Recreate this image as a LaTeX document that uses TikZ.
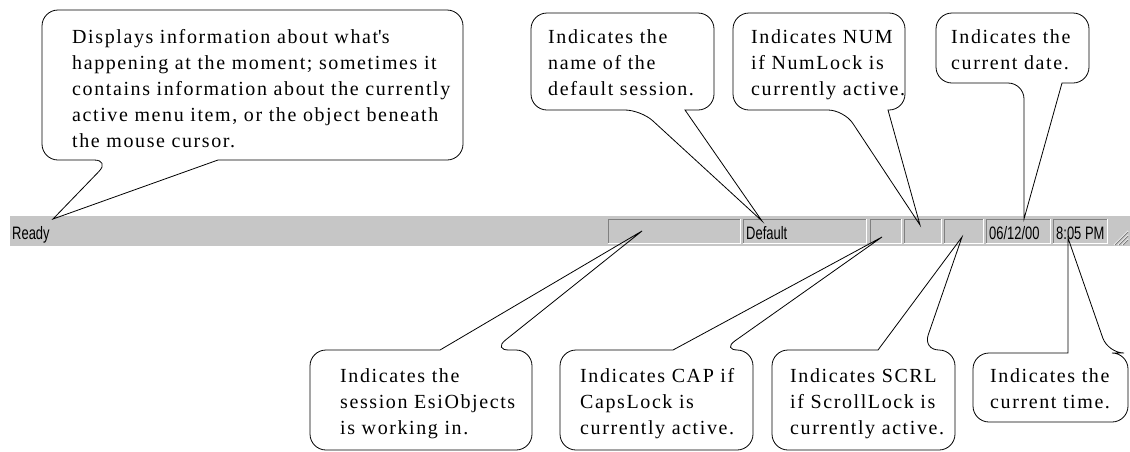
\documentclass[tikz,border=0pt]{standalone}
\usepackage{fontspec}
\usepackage{graphicx}
\setmainfont{Liberation Serif}
\newfontfamily\notefont[LetterSpace=8]{Liberation Serif}
\newfontfamily\barfont{Liberation Sans}
\definecolor{barfill}{RGB}{198,198,198}
\definecolor{panelshadow}{RGB}{128,128,128}

% callout outline with its pointer on the bottom edge:
% #1 left, #2 top, #3 right, #4 bottom, #5/#6 pointer base, #7 tip
\newcommand\bubbledown[7]{%
  \draw[bubbleline] (#6,#4) [rounded corners=16pt] -- (#3,#4) -- (#3,#2)
    -- (#1,#2) -- (#1,#4) -- (#5,#4) [sharp corners] -- (#7) -- cycle;}
% same, with the pointer on the top edge
\newcommand\bubbleup[7]{%
  \draw[bubbleline] (#5,#2) [rounded corners=16pt] -- (#1,#2) -- (#1,#4)
    -- (#3,#4) -- (#3,#2) -- (#6,#2) [sharp corners] -- (#7) -- cycle;}
% condensed status bar lettering
\newcommand\bartxt[1]{\scalebox{0.72}[1]{#1}}

\begin{document}
\begin{tikzpicture}[x=1pt,y=-1pt,
  bubbleline/.style={draw=black, line width=0.8pt},
  bubbletext/.style={anchor=north west, inner sep=0pt, align=left,
    font=\notefont\fontsize{20}{26}\selectfont},
  panelbox/.style={anchor=north west, inner sep=0pt, minimum height=24pt},
  darkedge/.style={draw=panelshadow, line width=1pt},
  lightedge/.style={draw=white, line width=1pt},
  bartext/.style={anchor=base west, inner sep=0pt,
    font=\barfont\fontsize{18}{18}\selectfont},
]
\useasboundingbox (0,0) rectangle (1130,451);
\fill[white] (0,0) rectangle (1130,451);

% status bar and its panes
\node[anchor=north west, fill=barfill, inner sep=0pt,
      minimum width=1120pt, minimum height=30pt] (bar) at (10,216) {};
\node[panelbox, minimum width=132pt] (pEsi)     at (608,219) {};
\node[panelbox, minimum width=123pt] (pDefault) at (743,219) {};
\node[panelbox, minimum width=31pt]  (pCap)     at (870,219) {};
\node[panelbox, minimum width=37pt]  (pNum)     at (904,219) {};
\node[panelbox, minimum width=39pt]  (pScrl)    at (944,219) {};
\node[panelbox, minimum width=64pt]  (pDate)    at (986,219) {};
\node[panelbox, minimum width=54pt]  (pTime)    at (1053,219) {};
\foreach \p in {pEsi,pDefault,pCap,pNum,pScrl,pDate,pTime}{
  \draw[darkedge]  (\p.south west) |- (\p.north east);
  \draw[lightedge] (\p.north east) |- (\p.south west);
}
\node[bartext] (tReady)   at (12,239)   {\bartxt{Ready}};
\node[bartext] (tDefault) at (746,239)  {\bartxt{Default}};
\node[bartext] (tDate)    at (989,239)  {\bartxt{06/12/00}};
\node[bartext] (tTime)    at (1056,239) {\bartxt{8:05 PM}};

% size grip
\foreach \d in {0,4,8}{
  \draw[lightedge] (1114+\d,245) -- (1128,231+\d);
  \draw[darkedge]  (1115+\d,245) -- (1128,232+\d);
}

% where the callouts point
\coordinate (tipReady)   at (53,219);
\coordinate (tipDefault) at (762,221);
\coordinate (tipNum)     at (920,225);
\coordinate (tipDate)    at (1024,219);
\coordinate (tipEsi)     at (642,231);
\coordinate (tipCap)     at (882,237);
\coordinate (tipScrl)    at (962,237);
\coordinate (tipTime)    at (1068,238);

% callouts above the bar
\bubbledown{42}{10}{463}{160}{110}{218}{tipReady}
\node[bubbletext] (nStatus) at (72,25) {\strut Displays information about what\textquotesingle s\\
  happening at the moment; sometimes it\\
  contains information about the currently\\
  active menu item, or the object beneath\\
  the mouse cursor.};

\bubbledown{531}{13}{714}{110}{641}{685}{tipDefault}
\node[bubbletext] (nDefault) at (548,25) {\strut Indicates the\\name of the\\default session.};

\bubbledown{733}{13}{905}{110}{844}{888}{tipNum}
\node[bubbletext] (nNum) at (751,25) {\strut Indicates NUM\\if NumLock is\\currently active.};

\bubbledown{936}{13}{1089}{83}{1024}{1062}{tipDate}
\node[bubbletext] (nDate) at (951,25) {\strut Indicates the\\current date.};

% callouts below the bar
\bubbleup{310}{350}{532}{450}{440}{493}{tipEsi}
\node[bubbletext] (nEsi) at (340,364) {\strut Indicates the\\session EsiObjects\\is working in.};

\bubbleup{560}{350}{753}{450}{673}{722}{tipCap}
\node[bubbletext] (nCap) at (580,364) {\strut Indicates CAP if\\CapsLock is\\currently active.};

\bubbleup{772}{350}{955}{450}{878}{923}{tipScrl}
\node[bubbletext] (nScrl) at (790,364) {\strut Indicates SCRL\\if ScrollLock is\\currently active.};

\bubbleup{973}{353}{1128}{422}{1068}{1108}{tipTime}
\node[bubbletext] (nTime) at (990,364) {\strut Indicates the\\current time.};
\end{tikzpicture}
\end{document}
